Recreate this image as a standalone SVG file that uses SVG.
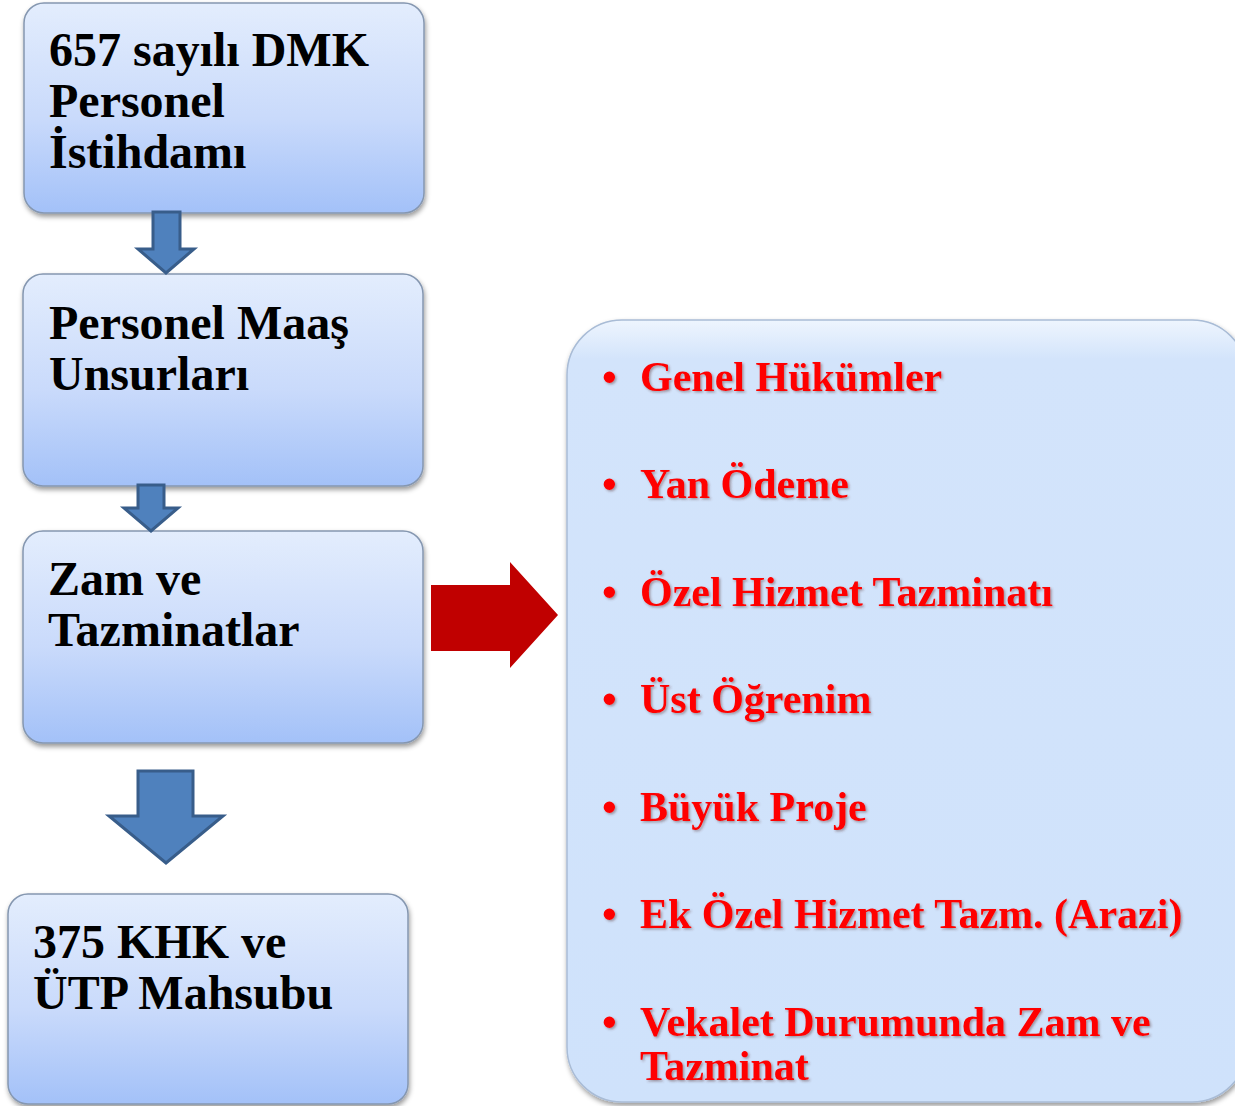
<svg xmlns="http://www.w3.org/2000/svg" width="1235" height="1106" viewBox="0 0 1235 1106">
<defs>
<linearGradient id="boxg" x1="0" y1="0" x2="0" y2="1">
<stop offset="0" stop-color="#e3edfd"/>
<stop offset="0.55" stop-color="#c9dafb"/>
<stop offset="1" stop-color="#a3c1f8"/>
</linearGradient>
<linearGradient id="panelg" x1="0" y1="0" x2="0" y2="1">
<stop offset="0" stop-color="#eef5fe"/>
<stop offset="0.05" stop-color="#d3e4fb"/>
<stop offset="1" stop-color="#cfe2fb"/>
</linearGradient>
<filter id="sh" x="-10%" y="-10%" width="120%" height="125%">
<feDropShadow dx="1" dy="3" stdDeviation="2.5" flood-color="#000" flood-opacity="0.4"/>
</filter>
<filter id="tsh" x="-5%" y="-20%" width="110%" height="150%">
<feDropShadow dx="1.5" dy="1.5" stdDeviation="1" flood-color="#5a3030" flood-opacity="0.45"/>
</filter>
<style>
.box{fill:url(#boxg);stroke:#8597b0;stroke-width:1.5}
.bt{font-family:"Liberation Serif","Times New Roman",serif;font-weight:bold;font-size:48px;fill:#000}
.rt{font-family:"Liberation Serif","Times New Roman",serif;font-weight:bold;font-size:42px;fill:#ff0000}
.barrow{fill:#4f81bd;stroke:#385d8a;stroke-width:3;stroke-linejoin:miter}
</style>
</defs>

<g id="panel">
<rect x="567" y="320" width="680" height="782" rx="55" ry="55" fill="url(#panelg)" stroke="#a9bcd6" stroke-width="1.5" filter="url(#sh)"/>
<g filter="url(#tsh)">
<text class="rt" x="602" y="391">•</text><text class="rt" x="640" y="391">Genel Hükümler</text>
<text class="rt" x="602" y="498">•</text><text class="rt" x="640" y="498">Yan Ödeme</text>
<text class="rt" x="602" y="606">•</text><text class="rt" x="640" y="606">Özel Hizmet Tazminatı</text>
<text class="rt" x="602" y="713">•</text><text class="rt" x="640" y="713">Üst Öğrenim</text>
<text class="rt" x="602" y="821">•</text><text class="rt" x="640" y="821">Büyük Proje</text>
<text class="rt" x="602" y="928">•</text><text class="rt" x="640" y="928">Ek Özel Hizmet Tazm. (Arazi)</text>
<text class="rt" x="602" y="1036">•</text><text class="rt" x="640" y="1036">Vekalet Durumunda Zam ve</text>
<text class="rt" x="640" y="1080">Tazminat</text>
</g>
</g>

<g id="node1">
<rect class="box" x="24" y="3" width="400" height="210" rx="20" ry="20" filter="url(#sh)"/>
<text class="bt" x="49" y="66">657 sayılı DMK</text>
<text class="bt" x="49" y="117">Personel</text>
<text class="bt" x="49" y="168">İstihdamı</text>
</g>

<g id="node2">
<rect class="box" x="23" y="274" width="400" height="212" rx="20" ry="20" filter="url(#sh)"/>
<text class="bt" x="49" y="339">Personel Maaş</text>
<text class="bt" x="49" y="390">Unsurları</text>
</g>

<g id="node3">
<rect class="box" x="23" y="531" width="400" height="212" rx="20" ry="20" filter="url(#sh)"/>
<text class="bt" x="48" y="595">Zam ve</text>
<text class="bt" x="48" y="646">Tazminatlar</text>
</g>

<g id="node4">
<rect class="box" x="8" y="894" width="400" height="210" rx="20" ry="20" filter="url(#sh)"/>
<text class="bt" x="33" y="958">375 KHK ve</text>
<text class="bt" x="33" y="1009">ÜTP Mahsubu</text>
</g>

<g id="connectors">
<polygon class="barrow" points="153,212 180,212 180,249 194,249 166,273 138,249 153,249"/>
<polygon class="barrow" points="138,485 164,485 164,508 178,508 151,531 124,508 138,508"/>
<polygon class="barrow" points="138,771 193,771 193,816 223,816 166,863 109,816 138,816"/>
<polygon points="431,585 510,585 510,562 558,615 510,668 510,651 431,651" fill="#c00000"/>
</g>
</svg>
